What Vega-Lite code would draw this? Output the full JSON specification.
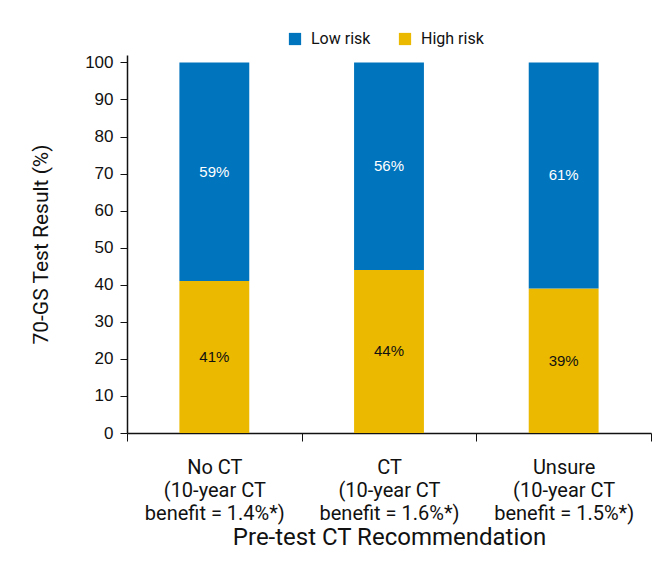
{
  "$schema": "https://vega.github.io/schema/vega-lite/v6.json",
  "width": 524,
  "height": 378,
  "autosize": {"type": "none"},
  "padding": {"left": 127, "top": 55, "right": 18, "bottom": 129},
  "background": "white",
  "config": {"view": {"stroke": null}},
  "data": {
    "values": [
      {"group": "No CT|(10-year CT|benefit = 1.4%*)", "risk": "High risk", "value": 41, "order": 1, "label": "41%"},
      {"group": "No CT|(10-year CT|benefit = 1.4%*)", "risk": "Low risk", "value": 59, "order": 2, "label": "59%"},
      {"group": "CT|(10-year CT|benefit = 1.6%*)", "risk": "High risk", "value": 44, "order": 1, "label": "44%"},
      {"group": "CT|(10-year CT|benefit = 1.6%*)", "risk": "Low risk", "value": 56, "order": 2, "label": "56%"},
      {"group": "Unsure|(10-year CT|benefit = 1.5%*)", "risk": "High risk", "value": 39, "order": 1, "label": "39%"},
      {"group": "Unsure|(10-year CT|benefit = 1.5%*)", "risk": "Low risk", "value": 61, "order": 2, "label": "61%"}
    ]
  },
  "encoding": {
    "x": {
      "field": "group",
      "type": "nominal",
      "sort": null,
      "scale": {"paddingInner": 0, "paddingOuter": 0},
      "axis": {
        "title": "Pre-test CT Recommendation",
        "labelExpr": "split(datum.label, '|')",
        "labelAngle": 0,
        "labelFont": "Roboto",
        "labelFontSize": 20,
        "labelLineHeight": 23,
        "labelColor": "#111",
        "labelPadding": 16,
        "tickBand": "extent",
        "tickSize": 8,
        "tickColor": "#111",
        "domainColor": "#111",
        "domainWidth": 1.5,
        "titleFont": "Roboto",
        "titleFontSize": 24,
        "titleFontWeight": "normal",
        "titleColor": "#111",
        "titlePadding": 2
      }
    }
  },
  "layer": [
    {
      "mark": {"type": "bar", "width": {"band": 0.4}},
      "encoding": {
        "y": {
          "field": "value",
          "type": "quantitative",
          "stack": "zero",
          "scale": {"domain": [0, 102], "nice": false},
          "axis": {
            "title": "70-GS Test Result (%)",
            "values": [0, 10, 20, 30, 40, 50, 60, 70, 80, 90, 100],
            "grid": false,
            "labelFont": "Liberation Sans",
            "labelFontSize": 17,
            "labelColor": "#111",
            "labelPadding": 7,
            "tickSize": 7,
            "tickColor": "#111",
            "domainColor": "#111",
            "domainWidth": 1.5,
            "titleFont": "Roboto",
            "titleFontSize": 21,
            "titleFontWeight": "normal",
            "titleColor": "#111",
            "titlePadding": 33
          }
        },
        "color": {
          "field": "risk",
          "type": "nominal",
          "scale": {"domain": ["Low risk", "High risk"], "range": ["#0074BD", "#EBBA00"]},
          "legend": {
            "title": null,
            "orient": "none",
            "direction": "horizontal",
            "legendX": 160,
            "legendY": -24,
            "symbolType": "square",
            "symbolSize": 150,
            "symbolStrokeWidth": 0,
            "labelFont": "Roboto",
            "labelFontSize": 16,
            "labelColor": "#111",
            "labelOffset": 8,
            "columnPadding": 26
          }
        },
        "order": {"field": "order", "type": "quantitative"}
      }
    },
    {
      "mark": {"type": "text", "font": "Liberation Sans", "fontSize": 15},
      "encoding": {
        "y": {
          "field": "value",
          "type": "quantitative",
          "stack": "zero",
          "bandPosition": 0.5,
          "axis": {
            "title": "70-GS Test Result (%)",
            "values": [0, 10, 20, 30, 40, 50, 60, 70, 80, 90, 100],
            "grid": false,
            "labelFont": "Liberation Sans",
            "labelFontSize": 17,
            "labelColor": "#111",
            "labelPadding": 7,
            "tickSize": 7,
            "tickColor": "#111",
            "domainColor": "#111",
            "domainWidth": 1.5,
            "titleFont": "Roboto",
            "titleFontSize": 21,
            "titleFontWeight": "normal",
            "titleColor": "#111",
            "titlePadding": 33
          }
        },
        "detail": {"field": "risk", "type": "nominal"},
        "order": {"field": "order", "type": "quantitative"},
        "text": {"field": "label", "type": "nominal"},
        "color": {"condition": {"test": "datum.risk === 'Low risk'", "value": "white"}, "value": "#111"}
      }
    }
  ]
}
